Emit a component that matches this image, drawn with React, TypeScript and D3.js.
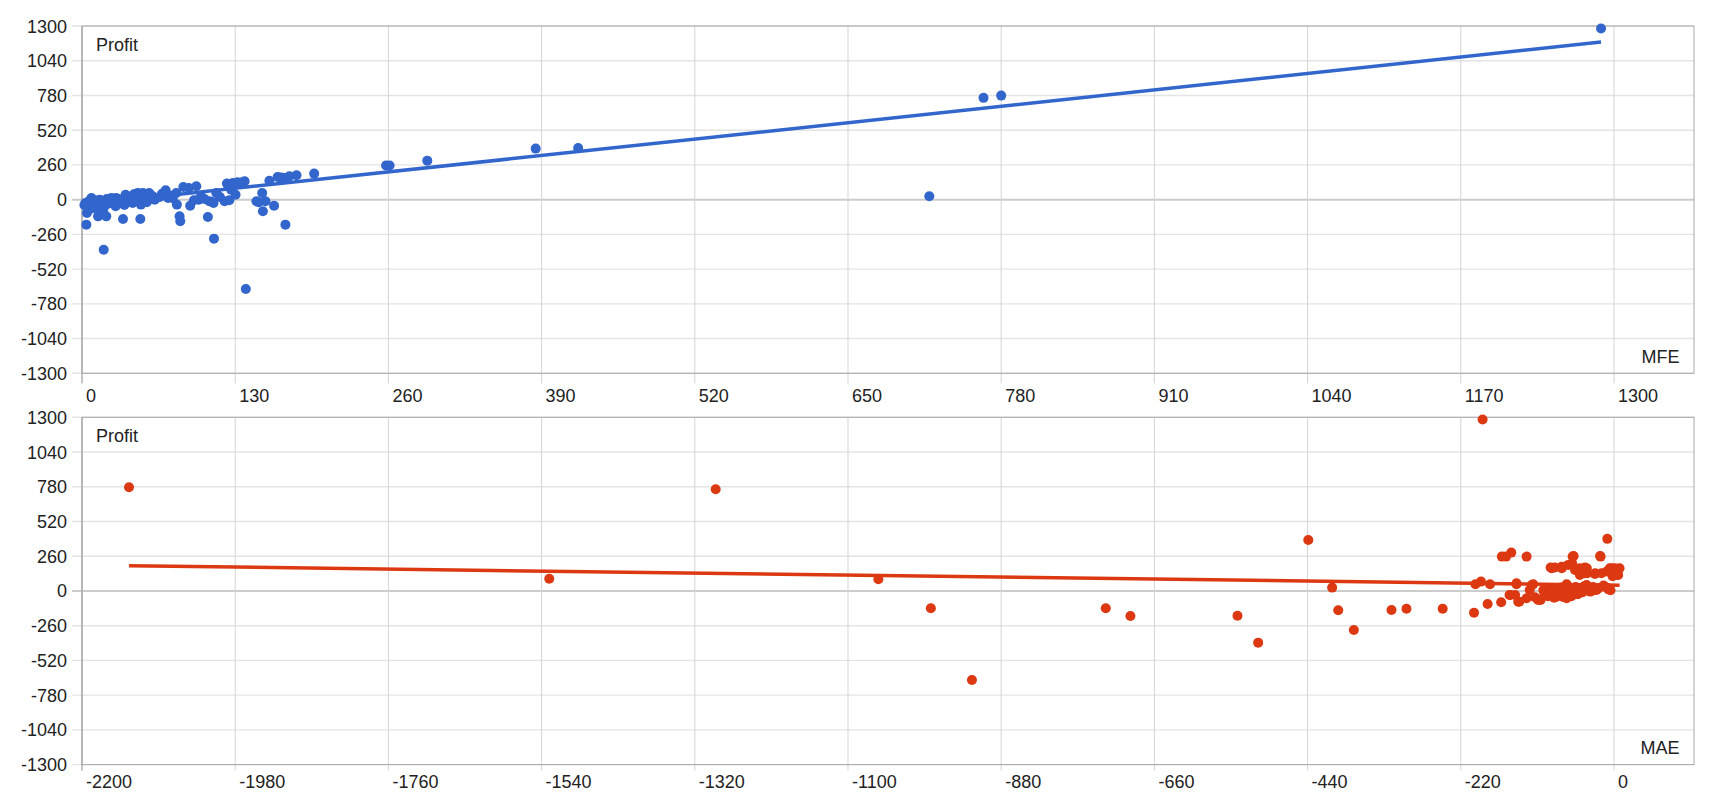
// @ts-nocheck
import React from 'react'
import * as d3 from 'd3'

const WIDTH = 1720
const HEIGHT = 800

// profit axis shared by both panels
const profitTicks = [-1300, -1040, -780, -520, -260, 0, 260, 520, 780, 1040, 1300]
const mfeTicks = [0, 130, 260, 390, 520, 650, 780, 910, 1040, 1170, 1300]
const maeTicks = [-2200, -1980, -1760, -1540, -1320, -1100, -880, -660, -440, -220, 0]

// [MFE, Profit]
const mfePoints = [
  [3.7, -187], [4.2, -100], [3, -25], [5, -50], [8, 12], [9, -25], [10.7, -62], [13.6, -125],
  [14.4, -12], [16.4, -37], [18, -75], [18.4, -375], [20.6, -125], [21, 5], [24.9, 12], [28.5, -50],
  [29, 12], [34.8, -145], [37, 37], [40.4, -12], [43, -25], [47.5, 50], [49.5, -145], [50, -37],
  [51.7, 50], [54.5, 25], [57, 50], [60, 25], [61.6, 0], [71, 70], [73, 12], [80, 50],
  [80.5, -37], [82.8, -125], [83.4, -162], [90.7, 87], [91.8, -45], [97, 100], [101, 25], [106.8, -130],
  [108, -12], [111.6, -25], [112, -292], [114, 50], [121, -12], [123, 120], [126.6, 75], [128, 125],
  [130.3, 37], [136.5, 132], [138, 137], [139, -669], [148, -12], [152.9, 50], [153.5, -87], [155.7, -12],
  [159, 142], [163, -45], [172, 162], [172.6, -187], [176, 175], [182, 182], [197, 195],
  [2, -40], [6, -10], [7, -70], [11, -5], [12, -45], [15, 0], [17, -20], [19, -50], [22, -30],
  [23, -8], [26, -20], [31, 5], [33, -25], [36, -40], [39, 10], [42, 20], [44, 40], [45, -10],
  [46, 45], [48, 30], [53, 40], [55, -20], [58, 35], [63, 10], [66, 20], [68, 45], [75, 30],
  [77, 10], [86, 95], [95, -5], [99, 0], [104, 5], [110, -15], [117, 20], [125, -5], [127, 100],
  [132, 130], [134, 125], [150, -20], [166, 170], [169, 165],
  [258, 255], [261, 255], [293, 292], [385, 382], [421, 387], [719, 25], [765, 762], [780, 779],
  [1289, 1281],
]

// [MAE, Profit]
const maePoints = [
  [-2132.5, 777], [-1529, 92], [-1290, 762], [-1056.4, 87], [-981, -130], [-922, -667], [-729.8, -130],
  [-694.4, -187], [-540.7, -185], [-511, -387], [-439, 382], [-404.7, 25], [-396, -145], [-373.6, -292],
  [-319.5, -142], [-298, -133], [-246, -133], [-201, -163], [-199, 50], [-191, 70], [-188.7, 1284],
  [-181.5, -98], [-178, 50], [-162, -85], [-161, 257], [-155, 257], [-147.5, 287], [-150, -30],
  [-140, 50], [-137.5, -80], [-142, -30], [-125.5, 257], [-125.5, -55], [-121, 7], [-116, 50],
  [-113.5, -47], [-105.4, -67], [-101.5, 7], [-91, 175], [-85, 175], [-92, 7], [-82.4, -42],
  [-75, 170], [-70.4, -18], [-68, 50], [-65.6, 195], [-59.4, 257], [-56, 157], [-51, -18], [-49, 120],
  [-41.7, 175], [-39.3, 45], [-38.4, 132], [-32, 7], [-27.4, 127], [-27.4, 7], [-19.2, 257], [-18, 132],
  [-9.6, 390], [-8, 12], [-6, 170], [1.4, 170], [6, 120], [8, 170],
  [-82, 7], [-68, 32], [-53, 7], [-82, -42], [-68, -55], [-34, -5], [-25, 7], [-109, -67], [-118, 45],
  [-136, -80], [-149, -30], [-140, 57], [-89.5, 170], [-75, 182], [-58, 262], [-60, 207], [-49, 170],
  [-39, 170], [-41.6, 132], [-27, 132], [-20, 262], [-10.5, 145], [-3, 170], [4, 120], [-8, 20],
  [-100, -20], [-95, -40], [-90, -10], [-88, 20], [-86, -50], [-80, 0], [-78, -30], [-76, 25],
  [-73, -45], [-72, 5], [-66, -10], [-63, 15], [-61, -40], [-58, 0], [-55, 30], [-52, -25], [-47, 10],
  [-45, -10], [-43, 35], [-36, 15], [-30, 30], [-22, 20], [-15, 40], [-12, 30], [-5, 5], [-2, 110],
  [2, 150], [5, 140],
]

// linear trendlines: [slope, intercept]
const mfeTrend = [0.945, -38]
const maeTrend = [-0.068, 44]

const FONT = '"Liberation Sans", Arial, sans-serif'

const Panel = ({ top, data, ticks, xDomain, trend, color, xTitle, labelY }) => {
  const left = 82
  const right = 1694
  const bottom = top + 347.3

  const x = d3.scaleLinear().domain(xDomain).range([left, right])
  const y = d3.scaleLinear().domain([-1300, 1300]).range([bottom, top])

  const [x0, x1] = d3.extent(data, (d) => d[0])
  const line = d3
    .line()
    .x((d) => x(d))
    .y((d) => y(trend[0] * d + trend[1]))

  return (
    <g>
      {profitTicks.map((t) => (
        <g key={'y' + t}>
          <line
            x1={left - 10}
            x2={right}
            y1={y(t)}
            y2={y(t)}
            stroke={t === 0 ? '#cccccc' : '#e4e4e4'}
            strokeWidth={t === 0 ? 2 : 1.4}
          />
          <text x={67} y={y(t) + 6.5} textAnchor="end" fontSize={18} fill="#222" fontFamily={FONT}>
            {t}
          </text>
        </g>
      ))}
      {ticks.map((t) => (
        <g key={'x' + t}>
          <line x1={x(t)} x2={x(t)} y1={top} y2={bottom + (top < 100 ? 10 : 6)} stroke="#d4d4d4" strokeWidth={1} />
          <text x={x(t) + 4} y={labelY} fontSize={18} fill="#222" fontFamily={FONT}>
            {t}
          </text>
        </g>
      ))}
      <line x1={left} x2={left} y1={top} y2={bottom + (top < 100 ? 10 : 6)} stroke="#a0a0a0" />
      <rect x={left} y={top} width={right - left} height={bottom - top} fill="none" stroke="#a8a8a8" strokeWidth={1} />
      <path d={line([x0, x1])} stroke={color} strokeWidth={3.5} fill="none" />
      {data.map((d, i) => (
        <circle key={i} cx={x(d[0])} cy={y(d[1])} r={5} fill={color} />
      ))}
      <text x={96} y={top + 24.6} fontSize={18} fill="#222" fontFamily={FONT}>
        Profit
      </text>
      <text x={1679.5} y={bottom - 10.6} textAnchor="end" fontSize={18} fill="#222" fontFamily={FONT}>
        {xTitle}
      </text>
    </g>
  )
}

export default function App() {
  return (
    <svg
      width={WIDTH}
      height={HEIGHT}
      style={{ position: 'absolute', left: 0, top: 0, background: '#fff' }}
    >
      <rect width={WIDTH} height={HEIGHT} fill="#fff" />
      <Panel
        top={26}
        data={mfePoints}
        ticks={mfeTicks}
        xDomain={[0, 1367.9]}
        trend={mfeTrend}
        color="#3366cc"
        xTitle="MFE"
        labelY={401.7}
      />
      <Panel
        top={417.3}
        data={maePoints}
        ticks={maeTicks}
        xDomain={[-2200, 114.9]}
        trend={maeTrend}
        color="#dc3912"
        xTitle="MAE"
        labelY={787.7}
      />
    </svg>
  )
}
